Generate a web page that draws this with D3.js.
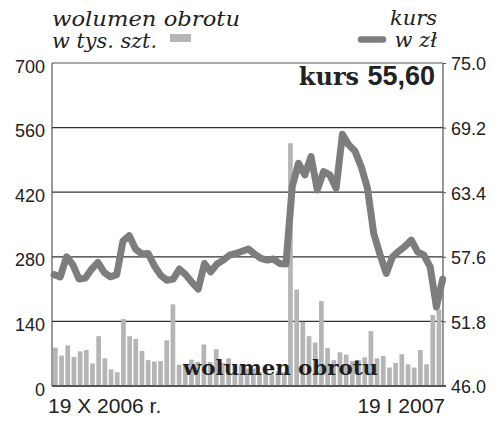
<!DOCTYPE html>
<html><head><meta charset="utf-8">
<script src="https://cdn.jsdelivr.net/npm/d3@7"></script>
<style>body{margin:0;background:#fff}svg{display:block}</style>
</head><body>
<svg id="c" width="500" height="430"></svg>
<script>
const dates = ["2006-10-19","2006-10-20","2006-10-23","2006-10-24","2006-10-25","2006-10-26","2006-10-27","2006-10-30","2006-10-31",
"2006-11-02","2006-11-03","2006-11-06","2006-11-07","2006-11-08","2006-11-09","2006-11-10","2006-11-13","2006-11-14","2006-11-15","2006-11-16","2006-11-17","2006-11-20","2006-11-21","2006-11-22","2006-11-23","2006-11-24","2006-11-27","2006-11-28","2006-11-29","2006-11-30",
"2006-12-01","2006-12-04","2006-12-05","2006-12-06","2006-12-07","2006-12-08","2006-12-11","2006-12-12","2006-12-13","2006-12-14","2006-12-15","2006-12-18","2006-12-19","2006-12-20","2006-12-21","2006-12-22","2006-12-27","2006-12-28","2006-12-29",
"2007-01-02","2007-01-03","2007-01-04","2007-01-05","2007-01-08","2007-01-09","2007-01-10","2007-01-11","2007-01-12","2007-01-15","2007-01-16","2007-01-17","2007-01-18","2007-01-19"];
const volume = [83,66,88,63,75,78,49,108,60,36,30,145,108,102,76,56,53,54,99,177,46,
45,57,52,90,52,80,50,60,45,45,38,38,30,38,25,32,30,
526,209,139,108,94,184,82,56,73,68,54,56,62,119,60,65,40,50,69,47,40,78,47,154,166];
const price = [56.0,55.8,57.6,56.9,55.6,55.7,56.5,57.1,56.2,55.8,56.0,59.0,59.5,58.3,57.85,57.9,56.8,55.95,55.5,55.6,56.5,
56.0,55.3,54.7,57.0,56.25,56.95,57.3,57.75,57.9,58.1,58.3,57.85,57.45,57.3,57.4,57.0,56.95,
63.9,66.0,64.95,66.6,63.6,65.25,64.95,63.75,68.6,67.65,67.1,65.7,63.75,59.7,57.8,56.1,57.6,58.1,58.55,59.1,58.05,57.75,56.7,53.1,55.6];
const volTicks = [0,140,280,420,560,700];
const priceTicks = [46.0,51.8,57.6,63.4,69.2,75.0];
const dateLabels = ["19 X 2006 r.","19 I 2007"];
const lastPrice = "55,60";

const svg = d3.select("#c");
const L = 52, R = 443, T = 63, B = 386;
const yVol = d3.scaleLinear().domain([0,700]).range([B,T]);
const yPrice = d3.scaleLinear().domain([46,75]).range([B,T]);
const xBar = d3.scaleBand().domain(d3.range(dates.length)).range([53,441.3]).paddingInner(0.24).paddingOuter(0);
const xLine = d3.scalePoint().domain(d3.range(dates.length)).range([54,442.7]);

const axisFont = "'Liberation Sans', Arial, sans-serif";

// grid lines
svg.append("g").selectAll("line").data(volTicks.filter(d=>d>0 && d<700)).join("line")
  .attr("x1",L).attr("x2",R).attr("y1",d=>yVol(d)).attr("y2",d=>yVol(d))
  .attr("stroke","#333").attr("stroke-width",1.2);

// bars
svg.append("g").selectAll("rect").data(volume).join("rect")
  .attr("x",(d,i)=>xBar(i)).attr("width",xBar.bandwidth())
  .attr("y",d=>yVol(d)).attr("height",d=>B-yVol(d))
  .attr("fill","#b5b5b5");

// frame
svg.append("line").attr("x1",L).attr("x2",R).attr("y1",T).attr("y2",T).attr("stroke","#555").attr("stroke-width",1.2);
svg.append("line").attr("x1",L).attr("x2",L).attr("y1",T).attr("y2",B).attr("stroke","#555").attr("stroke-width",1.2);
svg.append("line").attr("x1",R).attr("x2",R).attr("y1",T).attr("y2",B).attr("stroke","#555").attr("stroke-width",1.2);
svg.append("line").attr("x1",L).attr("x2",R+3).attr("y1",B).attr("y2",B).attr("stroke","#555").attr("stroke-width",2);

// left axis
const la = svg.append("g").attr("transform",`translate(${L},0)`)
  .call(d3.axisLeft(yVol).tickValues(volTicks).tickSize(0).tickPadding(7).tickFormat(d3.format("d")));
la.select(".domain").remove();
la.selectAll("text").attr("font-family",axisFont).attr("font-size",18).attr("fill","#222").attr("dy","0.5em");

// right axis
const ra = svg.append("g").attr("transform",`translate(${R},0)`)
  .call(d3.axisRight(yPrice).tickValues(priceTicks).tickSize(3).tickPadding(5).tickFormat(d3.format(".1f")));
ra.select(".domain").remove();
ra.selectAll("line").attr("stroke","#555");
ra.selectAll("text").attr("font-family",axisFont).attr("font-size",18).attr("fill","#222").attr("dy","0.38em");

// price line
svg.append("path").datum(price)
  .attr("d",d3.line().x((d,i)=>xLine(i)).y(d=>yPrice(d)))
  .attr("fill","none").attr("stroke","#7d7d7d").attr("stroke-width",7)
  .attr("stroke-linejoin","round").attr("stroke-linecap","round");

// inner label
svg.append("text").attr("x",183).attr("y",375).text("wolumen obrotu")
  .attr("font-family","'DejaVu Serif', serif").attr("font-weight","bold").attr("font-size",20).attr("fill","#1e1e1e")
  .attr("textLength",195).attr("lengthAdjust","spacingAndGlyphs");

// kurs label
const kt = svg.append("text").attr("x",435).attr("y",85).attr("text-anchor","end").attr("fill","#222");
kt.append("tspan").attr("font-family","'DejaVu Serif', serif").attr("font-weight","bold").attr("font-size",24).text("kurs ");
kt.append("tspan").attr("font-family","'Liberation Sans', Arial, sans-serif").attr("font-weight","bold").attr("font-size",27).text(lastPrice);

// legends
const lf = "'DejaVu Serif', serif";
svg.append("text").attr("x",52).attr("y",26).text("wolumen obrotu").attr("font-family",lf).attr("font-style","italic").attr("font-size",21).attr("fill","#222").attr("textLength",188).attr("lengthAdjust","spacingAndGlyphs");
svg.append("text").attr("x",52).attr("y",48).text("w tys. szt.").attr("font-family",lf).attr("font-style","italic").attr("font-size",21).attr("fill","#222").attr("textLength",105).attr("lengthAdjust","spacingAndGlyphs");
svg.append("rect").attr("x",170).attr("y",34).attr("width",21).attr("height",8).attr("fill","#b5b5b5");
svg.append("text").attr("x",437).attr("y",25).attr("text-anchor","end").text("kurs").attr("font-family",lf).attr("font-style","italic").attr("font-size",21).attr("fill","#222");
svg.append("text").attr("x",437).attr("y",47).attr("text-anchor","end").text("w zł").attr("font-family",lf).attr("font-style","italic").attr("font-size",21).attr("fill","#222");
svg.append("line").attr("x1",361).attr("x2",383).attr("y1",39.5).attr("y2",39.5).attr("stroke","#7d7d7d").attr("stroke-width",6.5).attr("stroke-linecap","round");

// date labels
svg.append("text").attr("x",48).attr("y",413).text(dateLabels[0]).attr("font-family",axisFont).attr("font-size",21).attr("fill","#222");
svg.append("text").attr("x",445).attr("y",413).attr("text-anchor","end").text(dateLabels[1]).attr("font-family",axisFont).attr("font-size",21).attr("fill","#222");
</script>
</body></html>
